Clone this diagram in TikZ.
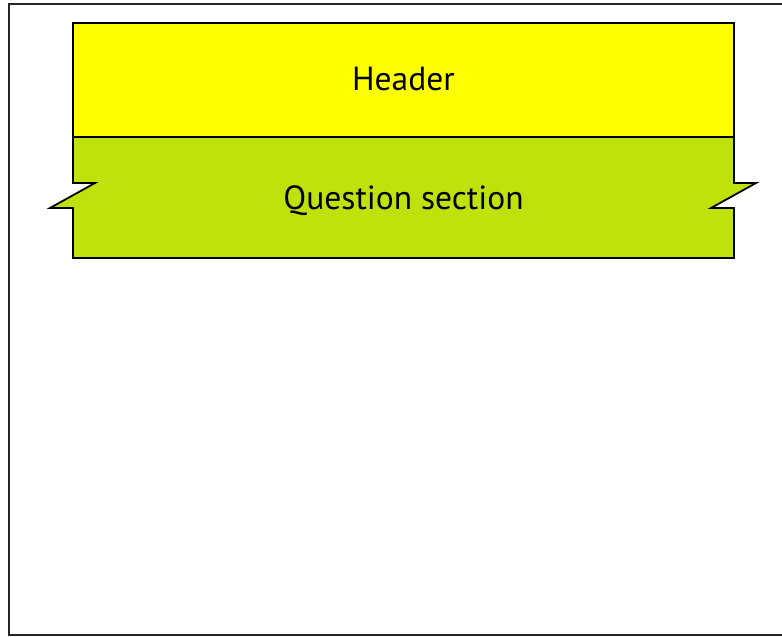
\documentclass[tikz,border=0pt]{standalone}
\usepackage{fontspec}
\setmainfont{PT Sans}
\definecolor{hdryellow}{RGB}{255,255,0}
\definecolor{qgreen}{RGB}{192,226,12}
\tikzset{
  part/.style={draw=black, line width=1.8pt, line join=miter},
  lbl/.style={anchor=base, font=\fontsize{33.5}{40}\selectfont}
}

\begin{document}
\begin{tikzpicture}[x=1pt, y=-1pt]
            \useasboundingbox (0,0) rectangle (782,637);
            \draw[line width=1.5pt, black!85] (9,4) rectangle (800,635);

            % question section with break marks
            \draw[part, fill=qgreen] (73,137) -- (73,183) -- (95,183) -- (50,208) -- (73,208)
                -- (73,258) -- (734,258) -- (734,208) -- (711,208) -- (756,183)
                -- (734,183) -- (734,137) -- cycle;
            \draw[part, fill=hdryellow] (73,23) rectangle (734,137);

            \node[lbl] (header) at (403.5,90) {Header};
            \node[lbl] (question) at (403.5,209) {Question section};
          \end{tikzpicture}
\end{document}
